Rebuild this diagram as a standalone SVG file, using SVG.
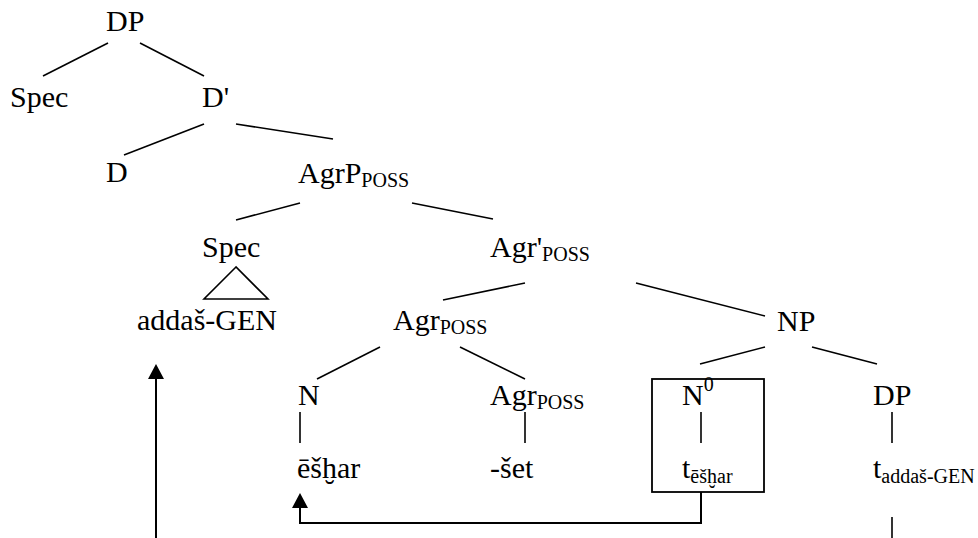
<svg xmlns="http://www.w3.org/2000/svg" width="978" height="538" viewBox="0 0 978 538">
  <defs>
    <style>
      text { font-family: "Liberation Serif", "DejaVu Serif", serif; font-size: 30px; fill: #000; }
      .sub { font-size: 20px; }
      .edge { stroke: #000; stroke-width: 1.6; fill: none; stroke-linecap: butt; }
      .move { stroke: #000; stroke-width: 2; fill: none; }
      .box { stroke: #000; stroke-width: 1.8; fill: none; }
    </style>
    <marker id="tip" viewBox="0 0 15 16" refX="7" refY="8" markerWidth="15" markerHeight="16" markerUnits="userSpaceOnUse" orient="auto">
      <path d="M0,0 L15,8 L0,16 z" fill="#000"/>
    </marker>
  </defs>
  <rect width="978" height="538" fill="#fff"/>

  <!-- tree branches and movement arrows -->
  <g id="connectors">
    <line class="edge" x1="108" y1="43" x2="43" y2="76"/>
    <line class="edge" x1="140" y1="43" x2="204" y2="76"/>
    <line class="edge" x1="204" y1="124" x2="124" y2="155"/>
    <line class="edge" x1="236" y1="124" x2="333" y2="139"/>
    <line class="edge" x1="300" y1="203" x2="236" y2="220"/>
    <line class="edge" x1="412" y1="203" x2="493" y2="219"/>
    <polygon class="edge" points="236,267 204,299 268,299"/>
    <line class="edge" x1="525" y1="283" x2="443" y2="300"/>
    <line class="edge" x1="636" y1="283" x2="765" y2="316"/>
    <line class="edge" x1="380" y1="347" x2="317" y2="379"/>
    <line class="edge" x1="460" y1="347" x2="525" y2="379"/>
    <line class="edge" x1="765" y1="347" x2="700" y2="364"/>
    <line class="edge" x1="812" y1="347" x2="877" y2="364"/>
    <line class="edge" x1="300" y1="412" x2="300" y2="443"/>
    <line class="edge" x1="525" y1="412" x2="525" y2="443"/>
    <line class="edge" x1="701" y1="412" x2="701" y2="443"/>
    <line class="edge" x1="892" y1="412" x2="892" y2="443"/>
    <line class="edge" x1="892" y1="517" x2="892" y2="538"/>
    <!-- head movement: trace back up to the noun -->
    <path class="move" d="M701,492 V523 H300 V501" marker-end="url(#tip)"/>
    <!-- possessor movement up to Spec -->
    <path class="move" d="M156,538 V372" marker-end="url(#tip)"/>
  </g>

  <g id="dp-top"><text x="106" y="31">DP</text></g>
  <g id="spec-top"><text x="10" y="107">Spec</text></g>
  <g id="d-bar"><text x="202" y="107">D'</text></g>
  <g id="d-head"><text x="106" y="182">D</text></g>
  <g id="agrp-poss"><text x="298" y="183">AgrP<tspan class="sub" dy="4">POSS</tspan></text></g>
  <g id="spec-agr"><text x="202" y="257">Spec</text></g>
  <g id="agr-bar-poss"><text x="490" y="257">Agr'<tspan class="sub" dy="4">POSS</tspan></text></g>
  <g id="possessor"><text x="137" y="330">addaš-GEN</text></g>
  <g id="agr-poss"><text x="393" y="330">Agr<tspan class="sub" dy="4">POSS</tspan></text></g>
  <g id="np"><text x="777" y="331">NP</text></g>
  <g id="n"><text x="298" y="405">N</text></g>
  <g id="agr-poss-head"><text x="490" y="405">Agr<tspan class="sub" dy="4">POSS</tspan></text></g>
  <g id="n0">
    <rect class="box" x="652" y="379" width="112" height="113"/>
    <text x="682" y="405">N<tspan class="sub" dy="-14">0</tspan></text>
    <text x="682" y="478">t<tspan class="sub" dy="5">ēšḫar</tspan></text>
  </g>
  <g id="dp-comp"><text x="873" y="405">DP</text></g>
  <g id="noun"><text x="297" y="478">ēšḫar</text></g>
  <g id="suffix"><text x="490" y="478">-šet</text></g>
  <g id="trace-possessor"><text x="873" y="478">t<tspan class="sub" dy="5">addaš-GEN</tspan></text></g>
</svg>
